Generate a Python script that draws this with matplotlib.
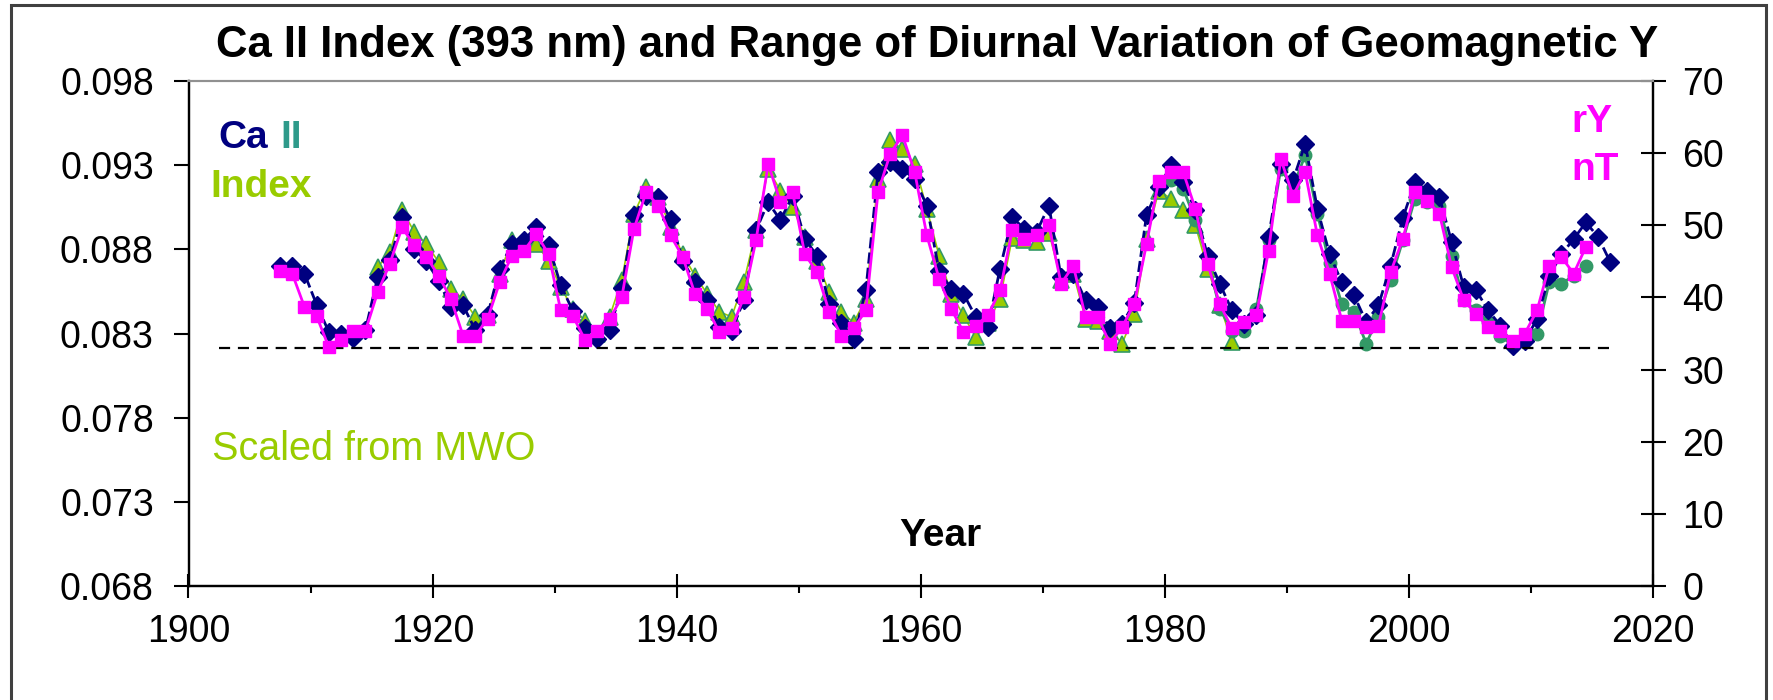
import numpy as np
import matplotlib
matplotlib.use("Agg")
import matplotlib.pyplot as plt
from matplotlib.patches import Rectangle

plt.rcParams['font.family'] = ['Liberation Sans', 'DejaVu Sans']

# ---------------- data ----------------
years_ca = list(range(1907, 2017))
ca_index = [0.08703, 0.08703, 0.08656, 0.08471, 0.08309, 0.08300, 0.08274, 0.08321, 0.08634, 0.08737,
            0.08990, 0.08801, 0.08729, 0.08613, 0.08459, 0.08467, 0.08321, 0.08407, 0.08686, 0.08831,
            0.08857, 0.08934, 0.08823, 0.08587, 0.08433, 0.08330, 0.08270, 0.08321, 0.08570, 0.09003,
            0.09119, 0.09110, 0.08981, 0.08733, 0.08604, 0.08497, 0.08339, 0.08317, 0.08497, 0.08913,
            0.09080, 0.08973, 0.09119, 0.08861, 0.08763, 0.08476, 0.08360, 0.08270, 0.08557, 0.09260,
            0.09320, 0.09277, 0.09217, 0.09059, 0.08673, 0.08566, 0.08536, 0.08399, 0.08339, 0.08686,
            0.08990, 0.08921, 0.08904, 0.09059, 0.08634, 0.08656, 0.08497, 0.08459, 0.08330, 0.08356,
            0.08484, 0.09003, 0.09170, 0.09299, 0.09200, 0.09033, 0.08763, 0.08596, 0.08437, 0.08356,
            0.08407, 0.08874, 0.09307, 0.09209, 0.09427, 0.09041, 0.08771, 0.08604, 0.08527, 0.08369,
            0.08467, 0.08703, 0.08986, 0.09200, 0.09149, 0.09110, 0.08844, 0.08574, 0.08557, 0.08437,
            0.08347, 0.08227, 0.08257, 0.08386, 0.08643, 0.08771, 0.08861, 0.08960, 0.08874, 0.08724]

years_mwo = list(range(1915, 1986))
ca_mwo = [0.08694, 0.08784, 0.09033, 0.08904, 0.08831, 0.08724, 0.08566, 0.08506, 0.08399, 0.08407,
          0.08656, 0.08853, 0.08844, 0.08831, 0.08733, 0.08574, 0.08446, 0.08377, 0.08300, 0.08399,
          0.08617, 0.09011, 0.09170, 0.09110, 0.08930, 0.08771, 0.08643, 0.08536, 0.08429, 0.08399,
          0.08604, 0.08913, 0.09277, 0.09149, 0.09050, 0.08874, 0.08733, 0.08544, 0.08429, 0.08364,
          0.08506, 0.09217, 0.09449, 0.09397, 0.09307, 0.09041, 0.08763, 0.08536, 0.08407, 0.08279,
          0.08364, 0.08506, 0.08870, 0.08857, 0.08844, 0.08900, 0.08617, 0.08656, 0.08386, 0.08377,
          0.08317, 0.08240, 0.08416, 0.08861, 0.09149, 0.09101, 0.09033, 0.08943, 0.08686, 0.08471,
          0.08249]

years_sp = list(range(1980, 2015))
ca_sp = [0.09209, 0.09161, 0.08973, 0.08746, 0.08446, 0.08317, 0.08317, 0.08446, 0.08853, 0.09277,
         0.09170, 0.09359, 0.09011, 0.08716, 0.08476, 0.08429, 0.08240, 0.08399, 0.08617, 0.08853,
         0.09101, 0.09080, 0.09059, 0.08763, 0.08497, 0.08437, 0.08369, 0.08287, 0.08227, 0.08257,
         0.08300, 0.08604, 0.08596, 0.08643, 0.08703]

years_ry = list(range(1907, 2015))
ry_nT = [43.7, 43.3, 38.7, 37.4, 33.1, 34.1, 35.4, 35.4, 40.7, 44.7,
         49.7, 47.2, 45.6, 43.0, 39.8, 34.7, 34.7, 37.0, 42.1, 45.8,
         46.5, 48.8, 46.0, 38.2, 37.4, 34.1, 35.4, 37.0, 40.0, 49.5,
         54.6, 52.7, 48.6, 45.6, 40.5, 38.4, 35.2, 35.7, 40.0, 47.9,
         58.5, 53.2, 54.6, 46.0, 43.5, 38.0, 34.7, 35.7, 38.2, 54.6,
         59.9, 62.5, 57.4, 48.6, 42.6, 38.4, 35.2, 36.1, 37.5, 41.0,
         49.3, 48.1, 48.6, 50.0, 41.9, 44.4, 37.3, 37.3, 33.6, 35.9,
         39.1, 47.4, 56.2, 57.4, 57.4, 52.3, 44.7, 39.1, 35.7, 36.6,
         37.5, 46.5, 59.2, 54.1, 57.4, 48.6, 43.3, 36.8, 36.8, 35.9,
         36.1, 43.5, 48.1, 54.6, 53.4, 51.6, 44.2, 39.6, 37.7, 35.9,
         35.4, 34.0, 35.0, 38.2, 44.4, 45.6, 43.3, 47.0]

baseline_nT = 33.0
baseline_span = [1902.5, 2017.0]

x_ticks = [1900, 1920, 1940, 1960, 1980, 2000, 2020]
left_ticks = [0.068, 0.073, 0.078, 0.083, 0.088, 0.093, 0.098]
right_ticks = [0, 10, 20, 30, 40, 50, 60, 70]

NAVY = '#000080'
MAG = '#FF00FF'
YG = '#99CC00'
SEA = '#339966'

W, H = 1773, 700
fig = plt.figure(figsize=(W / 100, H / 100), dpi=100)
ax = fig.add_axes([188.5 / W, 1 - 586 / H, (1653 - 188.5) / W, (586 - 81) / H])
ax2 = ax.twinx()

mid = 0.5
ax.plot(np.array(years_mwo) + mid, ca_mwo, color=YG, lw=1.2, marker='^', ms=11,
        mfc=YG, mec=SEA, mew=1.2, zorder=2)
ax.plot(np.array(years_sp) + mid, ca_sp, color=SEA, lw=2.0, marker='o', ms=9,
        mfc=SEA, mec=SEA, zorder=3)
ax.plot(np.array(years_ca) + mid, ca_index, color=NAVY, lw=2.0, ls=(0, (4, 1.5)), marker='D', ms=9.5,
        mfc=NAVY, mec=NAVY, zorder=4)

ax2.plot(np.array(years_ry) + mid, ry_nT, color=MAG, lw=2.0, marker='s', ms=8.5,
         mfc=MAG, mec=MAG, zorder=5)
ax2.plot(baseline_span, [baseline_nT, baseline_nT], color='black', lw=1.6, ls=(0, (5, 3.5)), zorder=1)

ax.set_xlim(1900, 2020)
ax.set_ylim(0.068, 0.098)
ax2.set_ylim(0, 70)
ax.set_xticks(x_ticks)
ax.set_xticks(list(range(1910, 2020, 20)), minor=True)
ax.set_yticks(left_ticks)
ax.set_yticklabels([f"{v:.3f}" for v in left_ticks])
ax2.set_yticks(right_ticks)

for a in (ax, ax2):
    for s in a.spines.values():
        s.set_linewidth(1.6)
        s.set_color('black')
    a.spines['top'].set_color('#909090')
    a.spines['top'].set_linewidth(1.5)

ax.tick_params(axis='x', which='major', direction='inout', length=17, width=1.5, pad=12,
               labelsize=27)
ax.tick_params(axis='x', which='minor', direction='out', length=5, width=1.5)
ax.tick_params(axis='y', which='major', direction='out', length=11, width=1.5, pad=14, labelsize=27)
ax2.tick_params(axis='y', which='major', direction='inout', length=18, width=1.5, pad=12, labelsize=27)

def ftext(x, y, s, **kw):
    fig.text(x / W, 1 - y / H, s, **kw)

ftext(937, 45, "Ca II Index (393 nm) and Range of Diurnal Variation of Geomagnetic Y",
      ha='center', va='center', fontsize=31.5, fontweight='bold')
ftext(940, 536, "Year", ha='center', va='center', fontsize=28, fontweight='bold')
ftext(218, 138, "Ca", ha='left', va='center', fontsize=28, fontweight='bold', color=NAVY)
ftext(280, 138, "II", ha='left', va='center', fontsize=28, fontweight='bold', color='#2E9A8A')
ftext(210, 187, "Index", ha='left', va='center', fontsize=28, fontweight='bold', color=YG)
ftext(212, 449, "Scaled from MWO", ha='left', va='center', fontsize=28.5, color=YG)
ftext(1612, 122, "rY", ha='right', va='center', fontsize=28, fontweight='bold', color=MAG)
ftext(1619, 170, "nT", ha='right', va='center', fontsize=28, fontweight='bold', color=MAG)

fig.patches.append(Rectangle((11 / W, -0.01), (1766 - 11) / W, 1 - 5 / H + 0.01,
                             transform=fig.transFigure, fill=False, ec='#404040', lw=2.2))

fig.savefig('out.png', dpi=100)
